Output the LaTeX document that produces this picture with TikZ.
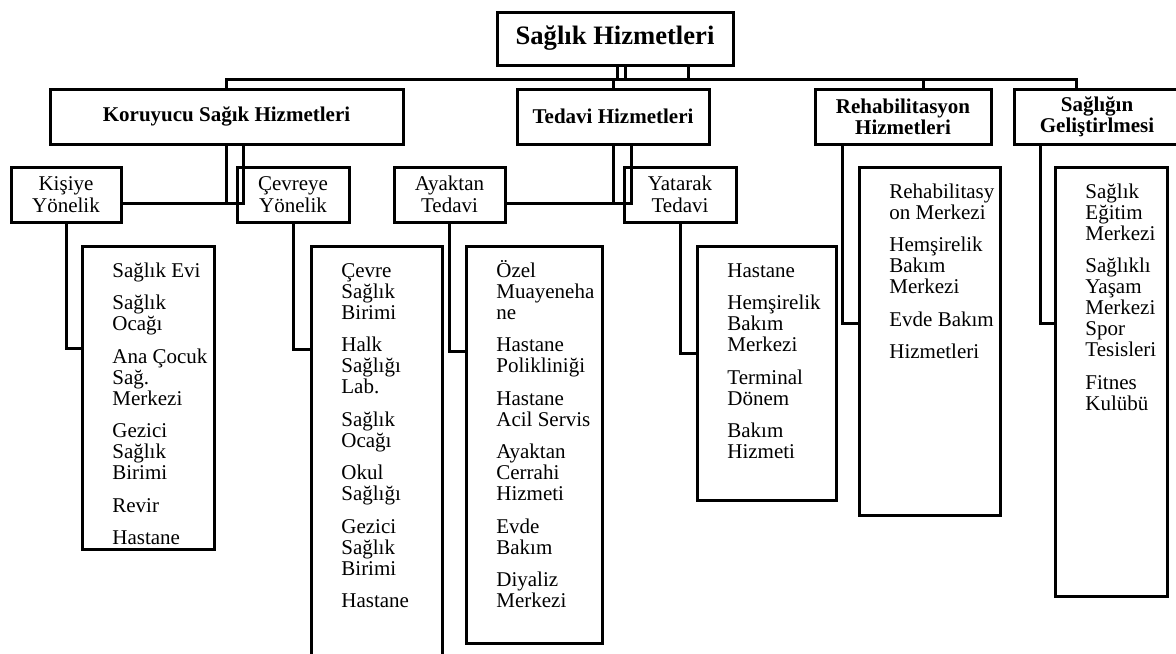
\documentclass[tikz,border=0pt]{standalone}
\usepackage{fontspec}
\setmainfont{Liberation Serif}
\newcommand\nxt{\\[5.75pt]}
\tikzset{
  box/.style={
    draw,
    line width=1.5pt,
    inner sep=0pt,
    outer sep=0pt,
    anchor=north west,
    align=center,
  },
  top box/.style={box, font=\fontsize{13.3}{14}\selectfont\bfseries},
  main box/.style={box, font=\fontsize{10.5}{10.5}\selectfont\bfseries},
  sub box/.style={box, font=\fontsize{10.5}{11}\selectfont},
  list text/.style={
    anchor=base west,
    inner sep=0pt,
    xshift=15pt, yshift=-15.5pt,
    font=\fontsize{10.5}{10.5}\selectfont,
  },
  link/.style={line width=1.5pt},
}

\begin{document}
\begin{tikzpicture}[x=0.5pt, y=-0.5pt]
        \useasboundingbox (0,0) rectangle (1176,653);
        \clip (0,0) rectangle (1176,653);

        \node[top box , minimum width=118pt , minimum height=26.5pt] (root) at (497,12)  {Sağlık Hizmetleri};
        \node[main box, minimum width=176.5pt, minimum height=27.5pt] (kor) at (50,89)   {Koruyucu Sağık Hizmetleri};
        \node[main box, minimum width=96pt   , minimum height=27.5pt] (ted) at (517,89)  {Tedavi Hizmetleri};
        \node[main box, minimum width=88pt   , minimum height=27.5pt] (reh) at (815,89)  {Rehabilitasyon\\Hizmetleri};
        \node[main box, minimum width=83pt   , minimum height=27.5pt] (sag) at (1014,89) {Sağlığın\\Geliştirlmesi};

        \node[sub box, minimum width=55pt  , minimum height=27.5pt] (kis) at (11,167)  {Kişiye\\Yönelik};
        \node[sub box, minimum width=56pt  , minimum height=27.5pt] (cev) at (237,167) {Çevreye\\Yönelik};
        \node[sub box, minimum width=55.5pt, minimum height=27.5pt] (aya) at (394,167) {Ayaktan\\Tedavi};
        \node[sub box, minimum width=56pt  , minimum height=27.5pt] (yat) at (624,167) {Yatarak\\Tedavi};

        \node[box, minimum width=66pt  , minimum height=151.5pt] (kisL) at (82,246)  {};
        \node[box, minimum width=65.5pt, minimum height=210pt  ] (cevL) at (311,246) {};
        \node[box, minimum width=68pt  , minimum height=198.5pt] (ayaL) at (466,246) {};
        \node[box, minimum width=69.5pt, minimum height=127pt  ] (yatL) at (697,246) {};
        \node[box, minimum width=70.5pt, minimum height=174pt  ] (rehL) at (859,167) {};
        \node[box, minimum width=56pt  , minimum height=214.5pt] (sagL) at (1055,167) {};

        \node[list text] (kisT) at (kisL.north west) {\parbox[t]{70pt}{Sağlık Evi\nxt Sağlık\\Ocağı\nxt Ana Çocuk\\Sağ.\\Merkezi\nxt Gezici\\Sağlık\\Birimi\nxt Revir\nxt Hastane}};
        \node[list text] (cevT) at (cevL.north west) {\parbox[t]{70pt}{Çevre\\Sağlık\\Birimi\nxt Halk\\Sağlığı\\Lab.\nxt Sağlık\\Ocağı\nxt Okul\\Sağlığı\nxt Gezici\\Sağlık\\Birimi\nxt Hastane}};
        \node[list text] (ayaT) at (ayaL.north west) {\parbox[t]{70pt}{Özel\\Muayeneha\\ne\nxt Hastane\\Polikliniği\nxt Hastane\\Acil Servis\nxt Ayaktan\\Cerrahi\\Hizmeti\nxt Evde\\Bakım\nxt Diyaliz\\Merkezi}};
        \node[list text] (yatT) at (yatL.north west) {\parbox[t]{70pt}{Hastane\nxt Hemşirelik\\Bakım\\Merkezi\nxt Terminal\\Dönem\nxt Bakım\\Hizmeti}};
        \node[list text] (rehT) at (rehL.north west) {\parbox[t]{70pt}{Rehabilitasy\\on Merkezi\nxt Hemşirelik\\Bakım\\Merkezi\nxt Evde Bakım\nxt Hizmetleri}};
        \node[list text] (sagT) at (sagL.north west) {\parbox[t]{70pt}{Sağlık\\Eğitim\\Merkezi\nxt Sağlıklı\\Yaşam\\Merkezi\\Spor\\Tesisleri\nxt Fitnes\\Kulübü}};

        % root to first level
        \foreach \x in {617,625,688}
          \draw[link] (root.south -| \x,0) -- (\x,79);
        \draw[link] (kor.north) |- (1076,79) -- (sag.north -| 1076,0);
        \draw[link] (ted.north -| 613,0) -- (613,79);
        \draw[link] (reh.north -| 923,0) -- (923,79);

        % first level to second level
        \draw[link] (kor.south) -- (kor.south |- 0,203);
        \draw[link] (kor.south -| 243,0) |- (kis.east |- 0,203);
        \draw[link] (ted.south -| 613,0) -- (613,203);
        \draw[link] (ted.south -| 631,0) |- (aya.east |- 0,203);

        % to the lists
        \draw[link] (kis.south) |- (kisL.west |- 0,348);
        \draw[link] (cev.south) |- (cevL.west |- 0,349);
        \draw[link] (aya.south) |- (ayaL.west |- 0,351);
        \draw[link] (yat.south) |- (yatL.west |- 0,353);
        \draw[link] (reh.south -| 842.5,0) |- (rehL.west |- 0,323);
        \draw[link] (sag.south -| 1040,0) |- (sagL.west |- 0,323);
\end{tikzpicture}
\end{document}
